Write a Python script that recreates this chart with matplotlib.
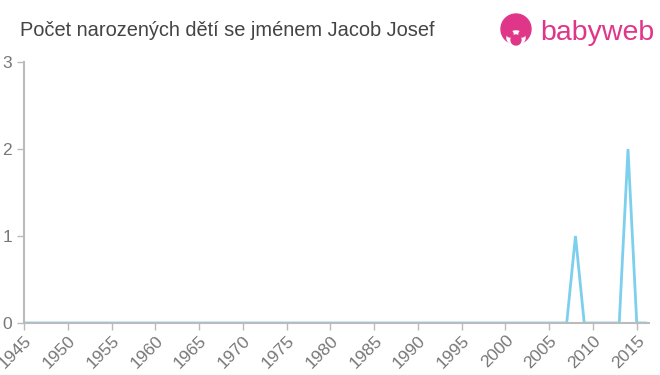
import matplotlib.pyplot as plt
from matplotlib.patches import Circle, Ellipse

plt.rcParams['font.family'] = ['Liberation Sans', 'DejaVu Sans']

# Data: počet narozených dětí podle roku
years = list(range(1945, 2017))
special = {2008: 1, 2014: 2}
counts = [special.get(y, 0) for y in years]

title = "Počet narozených dětí se jménem Jacob Josef"
xticks = list(range(1945, 2016, 5))
yticks = [0, 1, 2, 3]

W, H = 660, 375
fig = plt.figure(figsize=(W / 100, H / 100), dpi=100)
ax = fig.add_axes([24 / W, 1 - 323 / H, (649 - 24) / W, (323 - 62) / H])

ax.plot(years, counts, color='#7dcfee', linewidth=2, solid_joinstyle='miter')

ax.set_xlim(1945, 2016.4)
ax.set_ylim(0, 3)
ax.set_xticks(xticks)
ax.set_xticklabels([str(x) for x in xticks], rotation=45, ha='right', va='top',
                   rotation_mode='anchor')
ax.set_yticks(yticks)

for s in ['top', 'right']:
    ax.spines[s].set_visible(False)
for s in ['left', 'bottom']:
    ax.spines[s].set_color('#bbbbbb')
    ax.spines[s].set_linewidth(1.5)
ax.tick_params(colors='#bbbbbb', labelcolor='#777777', labelsize=12.5, length=5, width=1)
ax.tick_params(axis='x', pad=2)
ax.tick_params(axis='y', pad=3.5)

fig.text(20 / W, 1 - 30 / H, title, fontsize=14.4, color='#444444', va='center', ha='left')

# logo babyweb
pink = '#e0368a'
lx0, lx1, ly0, ly1 = 495, 545, 8, 52
logo_ax = fig.add_axes([lx0 / W, 1 - ly1 / H, (lx1 - lx0) / W, (ly1 - ly0) / H])
logo_ax.set_xlim(lx0, lx1)
logo_ax.set_ylim(ly1, ly0)
logo_ax.axis('off')
logo_ax.add_patch(Circle((516, 29), 15, color=pink))
logo_ax.add_patch(Ellipse((516, 38), 18, 14, color='white'))
logo_ax.add_patch(Circle((510, 34), 3, color=pink))
logo_ax.add_patch(Circle((522, 34), 3, color=pink))
logo_ax.add_patch(Circle((516, 40), 5, color=pink))
fig.text(540 / W, 1 - 33 / H, "babyweb", fontsize=20.5, color=pink, va='center', ha='left')

fig.savefig('out.png', dpi=100)
